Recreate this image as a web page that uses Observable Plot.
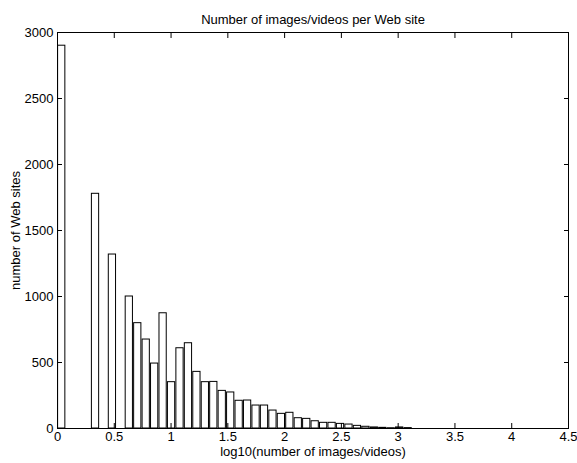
<!DOCTYPE html>
<html>
<head>
<meta charset="utf-8">
<script src="https://cdn.jsdelivr.net/npm/d3@7"></script>
<script src="https://cdn.jsdelivr.net/npm/@observablehq/plot@0.6"></script>
<style>
  html, body { margin: 0; padding: 0; background: #fff; }
  #chart svg { display: block; }
</style>
</head>
<body>
<div id="chart"></div>
<script>
const titleText = "Number of images/videos per Web site";
const xLabel = "log10(number of images/videos)";
const yLabel = "number of Web sites";

// histogram bin width in log10 units (60 bins over 0..4.464)
const binWidth = 0.0744;
// counts per bin (bin index 0..59)
const counts = [
  2900, 0, 0, 0, 1778, 0, 1318, 0, 1000, 798,
  674, 492, 873, 351, 608, 646, 429, 351, 353, 285,
  273, 210, 212, 174, 174, 136, 111, 119, 78, 73,
  55, 43, 43, 35, 30, 20, 13, 8, 5, 2,
  8, 3, 0, 0, 0, 0, 0, 0, 0, 0,
  0, 0, 0, 0, 0, 0, 0, 0, 0, 0
];
const xTicks = [0, 0.5, 1, 1.5, 2, 2.5, 3, 3.5, 4, 4.5];
const yTicks = [0, 500, 1000, 1500, 2000, 2500, 3000];

const bins = counts.map((c, i) => ({lo: i * binWidth, hi: (i + 1) * binWidth, count: c}));

const chart = Plot.plot({
  width: 577,
  height: 463,
  marginLeft: 57,
  marginRight: 9,
  marginTop: 32,
  marginBottom: 35,
  style: {fontFamily: "'Liberation Sans', Arial, Helvetica, sans-serif", fontSize: "13px", color: "black", background: "white"},
  x: {domain: [0, 4.5]},
  y: {domain: [0, 3000]},
  marks: [
    Plot.rectY(bins, {x1: "lo", x2: "hi", y: "count", fill: "white", stroke: "black", strokeWidth: 1, insetLeft: 0.6, insetRight: 0.6}),
    Plot.axisX(xTicks, {anchor: "bottom", tickSize: -5, tickPadding: 8, tickFormat: d => String(d), label: null}),
    Plot.axisX(xTicks, {anchor: "top", tickSize: -5, tickFormat: () => "", label: null}),
    Plot.axisY(yTicks, {anchor: "left", tickSize: -5, tickPadding: 9, tickFormat: d => String(d), label: null}),
    Plot.axisY(yTicks, {anchor: "right", tickSize: -5, tickFormat: () => "", label: null}),
    Plot.frame({stroke: "black", strokeWidth: 1}),
    Plot.text([titleText], {frameAnchor: "top", textAnchor: "middle", lineAnchor: "bottom", dy: -9, text: d => d, fontSize: 13}),
    Plot.text([xLabel], {frameAnchor: "bottom", textAnchor: "middle", lineAnchor: "top", dy: 18, text: d => d, fontSize: 13}),
    Plot.text([yLabel], {frameAnchor: "left", textAnchor: "middle", rotate: -90, lineAnchor: "middle", dx: -42, text: d => d, fontSize: 13})
  ]
});
document.getElementById("chart").appendChild(chart);
</script>
</body>
</html>
